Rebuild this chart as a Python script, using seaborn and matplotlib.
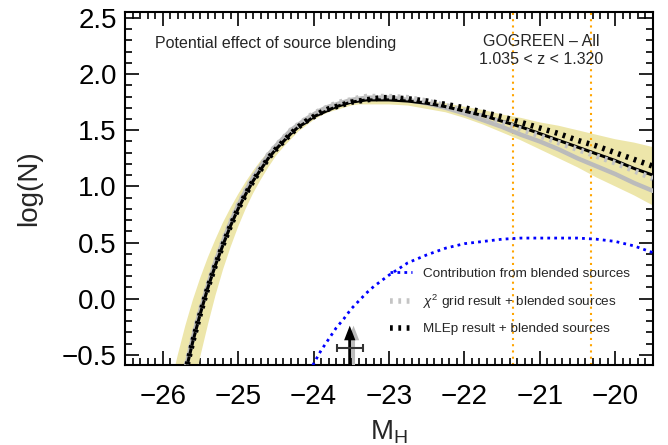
import numpy as np
import matplotlib
matplotlib.use("Agg")
import matplotlib.pyplot as plt
import seaborn as sns
from matplotlib.ticker import MultipleLocator
from matplotlib.lines import Line2D

sns.set_theme(style="ticks")
plt.rcParams["font.family"] = ["Liberation Sans", "DejaVu Sans"]
plt.rcParams["mathtext.fontset"] = "custom"
plt.rcParams["mathtext.rm"] = "Liberation Sans"
plt.rcParams["mathtext.it"] = "Liberation Sans:italic"

# Absolute H-band magnitude grid
mag = [-26.0, -25.9, -25.8, -25.7, -25.6, -25.5, -25.4, -25.3, -25.2, -25.1,
       -25.0, -24.9, -24.8, -24.7, -24.6, -24.5, -24.4, -24.3, -24.2, -24.1,
       -24.0, -23.9, -23.8, -23.7, -23.6, -23.5, -23.4, -23.3, -23.2, -23.1,
       -23.0, -22.75, -22.5, -22.25, -22.0, -21.75, -21.5, -21.25, -21.0, -20.75,
       -20.5, -20.25, -20.0, -19.75, -19.5]

# MLEp luminosity function, log(N)
mlep = [-1.69, -1.31, -0.97, -0.66, -0.38, -0.13, 0.10, 0.30, 0.48, 0.65,
        0.80, 0.93, 1.05, 1.15, 1.25, 1.33, 1.40, 1.47, 1.53, 1.57,
        1.62, 1.65, 1.68, 1.71, 1.73, 1.75, 1.76, 1.77, 1.77, 1.77,
        1.77, 1.76, 1.74, 1.71, 1.67, 1.63, 1.58, 1.53, 1.47, 1.41,
        1.35, 1.29, 1.23, 1.16, 1.10]

# MLEp uncertainty envelope
mlep_hi = [-1.10, -0.79, -0.50, -0.24, -0.01, 0.19, 0.37, 0.53, 0.68, 0.81,
           0.93, 1.04, 1.14, 1.23, 1.31, 1.38, 1.45, 1.51, 1.56, 1.60,
           1.64, 1.67, 1.69, 1.72, 1.73, 1.75, 1.76, 1.77, 1.78, 1.78,
           1.79, 1.78, 1.76, 1.74, 1.71, 1.68, 1.64, 1.61, 1.57, 1.54,
           1.50, 1.46, 1.42, 1.39, 1.35]
mlep_lo = [-2.37, -1.92, -1.52, -1.15, -0.82, -0.51, -0.23, 0.03, 0.26, 0.46,
           0.64, 0.80, 0.94, 1.06, 1.17, 1.27, 1.35, 1.42, 1.49, 1.54,
           1.59, 1.63, 1.66, 1.68, 1.70, 1.72, 1.73, 1.73, 1.73, 1.73,
           1.73, 1.72, 1.69, 1.66, 1.61, 1.55, 1.48, 1.41, 1.33, 1.25,
           1.17, 1.08, 1.00, 0.92, 0.83]

# chi^2 grid luminosity function, log(N)
chi2 = [-1.66, -1.28, -0.94, -0.63, -0.35, -0.10, 0.12, 0.33, 0.51, 0.68,
        0.83, 0.96, 1.08, 1.18, 1.28, 1.36, 1.43, 1.50, 1.55, 1.60,
        1.64, 1.68, 1.71, 1.73, 1.75, 1.77, 1.78, 1.79, 1.79, 1.79,
        1.79, 1.77, 1.74, 1.70, 1.65, 1.59, 1.53, 1.46, 1.40, 1.33,
        1.25, 1.18, 1.11, 1.03, 0.96]

# Blended-source contribution, log(N), from M_H = -24.1 onwards
blend = [-0.70, -0.58, -0.46, -0.36, -0.26, -0.18, -0.09, -0.02, 0.05, 0.11,
         0.16, 0.21, 0.32, 0.39, 0.45, 0.49, 0.51, 0.53, 0.54, 0.54,
         0.54, 0.54, 0.53, 0.51, 0.47, 0.41]

# Fits including the blended sources
mlep_blend = [-1.69, -1.31, -0.97, -0.66, -0.38, -0.13, 0.10, 0.30, 0.48, 0.65,
              0.80, 0.93, 1.05, 1.15, 1.25, 1.33, 1.40, 1.47, 1.53, 1.58,
              1.62, 1.66, 1.69, 1.71, 1.73, 1.75, 1.76, 1.77, 1.78, 1.79,
              1.79, 1.78, 1.76, 1.73, 1.70, 1.66, 1.62, 1.57, 1.52, 1.47,
              1.41, 1.36, 1.30, 1.24, 1.18]
chi2_blend = [-1.66, -1.28, -0.94, -0.63, -0.35, -0.10, 0.12, 0.33, 0.51, 0.68,
              0.83, 0.96, 1.08, 1.18, 1.28, 1.36, 1.43, 1.50, 1.55, 1.60,
              1.65, 1.68, 1.71, 1.74, 1.76, 1.77, 1.79, 1.80, 1.80, 1.80,
              1.80, 1.79, 1.76, 1.72, 1.67, 1.62, 1.57, 1.51, 1.45, 1.39,
              1.33, 1.27, 1.21, 1.14, 1.07]

# Magnitude limits (vertical markers)
mag_limits = [-21.36, -20.32]

# Lower-limit marker: position, arrow tip and horizontal error
limit_mag = -23.52
limit_tip = -0.24
limit_err_y = -0.44
limit_err_x = 0.17

mag_blend = mag[-len(blend):]

fig = plt.figure(figsize=(6.68, 4.45), dpi=100)
ax = fig.add_axes([0.1871, 0.1798, 0.7904, 0.7933])

ax.fill_between(mag, mlep_lo, mlep_hi, color="#EDE6AA", lw=0, zorder=1)
for xv in mag_limits:
    ax.axvline(xv, color="#FFA500", lw=1.5, ls=(0, (1, 2)), zorder=2)

sns.lineplot(x=mag, y=chi2, color="#BBBBBB", lw=3.2, estimator=None, sort=False, ax=ax, zorder=3)
sns.lineplot(x=mag, y=mlep, color="black", lw=2.2, estimator=None, sort=False, ax=ax, zorder=4)
sns.lineplot(x=mag, y=chi2_blend, color="#C4C4C4", lw=4, linestyle=(0, (0.5, 1)),
             estimator=None, sort=False, ax=ax, zorder=5)
sns.lineplot(x=mag, y=mlep_blend, color="black", lw=4, linestyle=(0, (0.5, 1)),
             estimator=None, sort=False, ax=ax, zorder=6)
sns.lineplot(x=mag_blend, y=blend, color="blue", lw=2, linestyle=(0, (1, 1.5)),
             estimator=None, sort=False, ax=ax, zorder=6)

ax.set_xlim(-26.5, -19.5)
ax.set_ylim(-0.59, 2.553)
y0 = ax.get_ylim()[0]
ax.arrow(limit_mag + 0.05, y0 - 0.05, 0, limit_tip - y0 + 0.05, width=0.04, head_width=0.15,
         head_length=0.13, length_includes_head=True, color="#BBBBBB", lw=0, zorder=7)
ax.arrow(limit_mag, y0 - 0.05, 0, limit_tip - y0 + 0.05, width=0.04, head_width=0.15,
         head_length=0.13, length_includes_head=True, color="black", lw=0, zorder=8)
ax.errorbar([limit_mag], [limit_err_y], xerr=[limit_err_x], color="#333333", lw=1.5,
            capsize=3, capthick=1.5, zorder=9)

ax.xaxis.set_major_locator(MultipleLocator(1))
ax.xaxis.set_minor_locator(MultipleLocator(0.1))
ax.yaxis.set_major_locator(MultipleLocator(0.5))
ax.yaxis.set_minor_locator(MultipleLocator(0.1))
ax.tick_params(which="both", direction="in", top=True, right=True, colors="black",
               labelsize=20, width=1.2)
ax.tick_params(which="major", length=10)
ax.tick_params(which="minor", length=5)
ax.tick_params(axis="x", which="major", pad=14)
ax.tick_params(axis="y", which="major", pad=6)
for sp in ax.spines.values():
    sp.set_linewidth(1.5)
    sp.set_color("black")

ax.set_xlabel(r"M$_\mathregular{H}$", fontsize=20, labelpad=6)
ax.set_ylabel("log(N)", fontsize=20, labelpad=14)

ax.text(0.057, 0.912, "Potential effect of source blending", transform=ax.transAxes,
        fontsize=11.5, va="center")
ax.text(0.788, 0.915, "GOGREEN – All", transform=ax.transAxes, fontsize=11.5,
        va="center", ha="center")
ax.text(0.788, 0.864, "1.035 < z < 1.320", transform=ax.transAxes, fontsize=11.5,
        va="center", ha="center")

handles = [
    Line2D([], [], color="blue", lw=2, linestyle=(0, (1, 1.5))),
    Line2D([], [], color="#C4C4C4", lw=4, linestyle=(0, (0.5, 1))),
    Line2D([], [], color="black", lw=4, linestyle=(0, (0.5, 1))),
]
ax.legend(handles, ["Contribution from blended sources",
                    r"$\chi^2$ grid result + blended sources",
                    "MLEp result + blended sources"],
          loc="upper left", bbox_to_anchor=(0.502, 0.2765), frameon=False, fontsize=9.7,
          handlelength=1.65, handletextpad=0.8, labelspacing=0.93, borderpad=0,
          borderaxespad=0)

fig.savefig("out.png", dpi=100)
